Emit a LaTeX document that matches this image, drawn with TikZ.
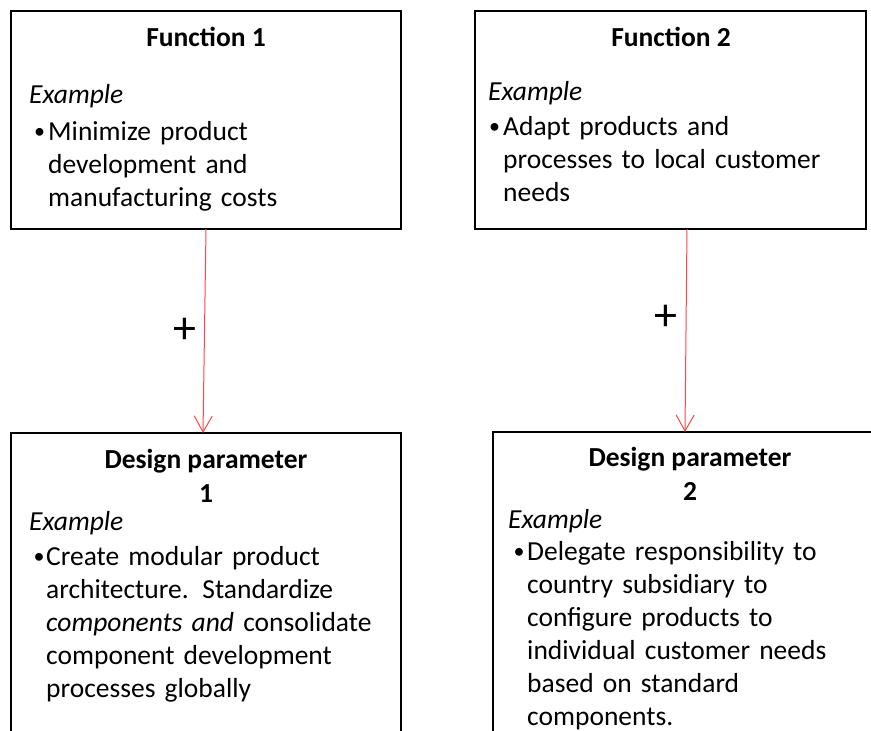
\documentclass[tikz,border=0pt]{standalone}
\usepackage{fontspec}
\setmainfont{Carlito}
\usetikzlibrary{arrows.meta}
\definecolor{arrred}{RGB}{255,70,70}
\begin{document}
\begin{tikzpicture}[x=1pt,y=-1pt,
  box/.style={draw=black,line width=2pt,anchor=north west,inner sep=0pt,outer sep=0pt},
  title/.style={font=\fontsize{27.5}{34}\selectfont\bfseries,anchor=base,inner sep=0pt,align=center},
  exlabel/.style={font=\fontsize{27.5}{33}\selectfont\itshape,anchor=base west,inner sep=0pt},
  bul/.style={font=\fontsize{22}{33}\selectfont,anchor=base,inner sep=0pt,yshift=1.5pt},
  body/.style={font=\fontsize{27.5}{33}\selectfont,anchor=base west,inner sep=0pt,text width=400pt,align=left},
  plus/.style={font=\fontsize{46}{46}\selectfont,inner sep=0pt},
  arr/.style={draw=arrred,line width=1pt,-{Straight Barb[length=16pt,width=18pt,line width=1pt]}}]
\useasboundingbox (0,0) rectangle (871,731);
\clip (0,0) rectangle (871,731);
\fill[white] (0,0) rectangle (871,731);
% boxes
\node[box,minimum width=390pt,minimum height=218pt] (F1) at (11,11) {};
\node[box,minimum width=391pt,minimum height=218pt] (F2) at (475,11) {};
\node[box,minimum width=390pt,minimum height=330pt] (D1) at (11,433) {};
\node[box,minimum width=420pt,minimum height=330pt] (D2) at (493,432) {};
% Function 1
\node[title] (F1t) at (206,46) {Function 1};
\node[exlabel] (F1e) at (29,103) {Example};
\node[bul] (F1b) at (39.5,140) {•};
\node[body] (F1x) at (48,140) {Minimize product\\development  and\\manufacturing costs};
% Function 2
\node[title] (F2t) at (671,46) {Function 2};
\node[exlabel] (F2e) at (488,100) {Example};
\node[bul] (F2b) at (494.5,135) {•};
\node[body] (F2x) at (503,135) {Adapt products and\\processes to local customer\\needs};
% Design parameter 1
\node[title] (D1t) at (206,502) {Design parameter\\1};
\node[exlabel] (D1e) at (29,530) {Example};
\node[bul] (D1b) at (39,565) {•};
\node[body] (D1x) at (46,565) {Create modular product\\architecture. Standardize\\\textit{components and} consolidate\\component development\\processes globally};
% Design parameter 2
\node[title] (D2t) at (690,500) {Design parameter\\2};
\node[exlabel] (D2e) at (508,528) {Example};
\node[bul] (D2b) at (519,560) {•};
\node[body] (D2x) at (527,560) {Delegate responsibility to\\country subsidiary to\\configure products to\\individual customer needs\\based on standard\\components.};
% connectors
\draw[arr] ([xshift=0pt]F1.south) -- ([xshift=-3pt]D1.north);
\draw[arr] ([xshift=16.5pt]F2.south) -- ([xshift=192pt]D2.north west);
\node[plus] (p1) at (185,331) {+};
\node[plus] (p2) at (666,318) {+};
\end{tikzpicture}
\end{document}
